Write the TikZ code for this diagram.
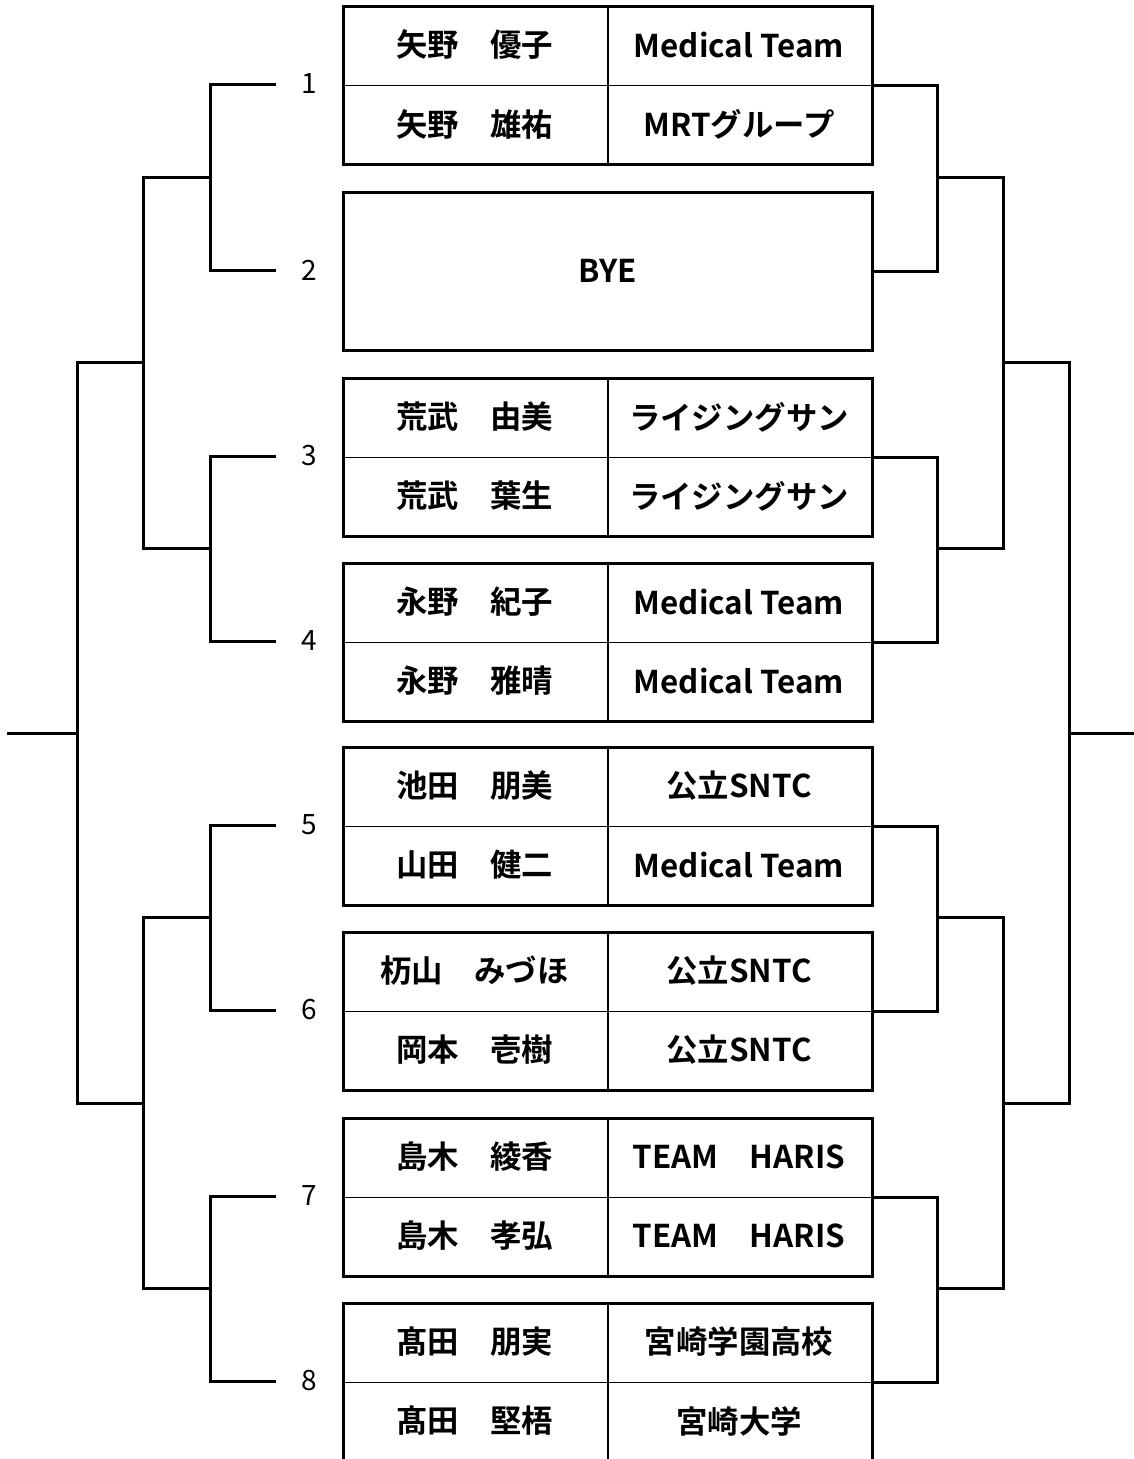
\documentclass[tikz,border=0pt]{standalone}
\usepackage{fontspec}
\setmainfont{Noto Sans CJK JP}[BoldFont={* Bold}]
\begin{document}
\begin{tikzpicture}[x=1pt,y=-1pt,
  br/.style={line width=3pt},
  outer/.style={draw, line width=3pt, minimum width=529pt, minimum height=157.5pt, inner sep=0pt, anchor=north west},
  vdiv/.style={line width=2pt},
  hdiv/.style={line width=1.3pt},
  cell/.style={font=\fontsize{31.4}{31.4}\selectfont\bfseries, inner sep=0pt, anchor=center},
  num/.style={font=\fontsize{28}{28}\selectfont, inner sep=0pt}]
\useasboundingbox (0,0) rectangle (1134,1459);

% boxes
\foreach \k/\t in {1/5,2/191,3/377,4/562,5/746,6/931,7/1117,8/1302}{
  \node[outer] (b\k) at (342,\t) {};
}
\foreach \k in {1,3,4,5,6,7,8}{
  \draw[vdiv] (b\k.north) -- (b\k.south);
  \draw[hdiv] (b\k.west) -- (b\k.east);
}

% texts
\foreach \k/\t/\na/\ta/\nb/\tb in {
  1/5/矢野　優子/Medical Team/矢野　雄祐/MRTグループ,
  3/377/荒武　由美/ライジングサン/荒武　葉生/ライジングサン,
  4/562/永野　紀子/Medical Team/永野　雅晴/Medical Team,
  5/746/池田　朋美/公立SNTC/山田　健二/Medical Team,
  6/931/杤山　みづほ/公立SNTC/岡本　壱樹/公立SNTC,
  7/1117/島木　綾香/TEAM　HARIS/島木　孝弘/TEAM　HARIS,
  8/1302/髙田　朋実/宮崎学園高校/髙田　堅梧/宮崎大学}{
  \node[cell] (na\k) at (474.5,\t+40) {\na};
  \node[cell] (ta\k) at (739,\t+40) {\ta};
  \node[cell] (nb\k) at (474.5,\t+119) {\nb};
  \node[cell] (tb\k) at (739,\t+119) {\tb};
}
\node[cell] (bye) at (b2.center) {BYE};

% numbers and left stubs
\foreach \k/\y in {1/84,2/270,3/456,4/641,5/825,6/1010,7/1196,8/1381}{
  \node[num] (num\k) at (309,\y) {\k};
  \coordinate (l\k) at (276,\y);
}

% left bracket joints
\coordinate (j12) at (210,177);
\coordinate (j34) at (210,548.5);
\coordinate (j56) at (210,917.5);
\coordinate (j78) at (210,1288.5);
\coordinate (k1) at (143,362.75);
\coordinate (k2) at (143,1103);
\coordinate (m) at (77,733);
\coordinate (out) at (7,733);

\draw[br] (l1) -| (j12) |- (l2);
\draw[br] (l3) -| (j34) |- (l4);
\draw[br] (l5) -| (j56) |- (l6);
\draw[br] (l7) -| (j78) |- (l8);
\draw[br] (j12) -| (k1) |- (j34);
\draw[br] (j56) -| (k2) |- (j78);
\draw[br] (k1) -| (m) |- (k2);
\draw[br] (m) -- (out);

% right bracket joints
\coordinate (rj12) at (937,177);
\coordinate (rj34) at (937,548.5);
\coordinate (rj56) at (937,917.5);
\coordinate (rj78) at (937,1288.5);
\coordinate (rk1) at (1003,362.75);
\coordinate (rk2) at (1003,1103);
\coordinate (rm) at (1069,733);
\coordinate (rout) at (1134,733);

\draw[br] (b1.east) -| (rj12) |- (b2.east);
\draw[br] (b3.east) -| (rj34) |- (b4.east);
\draw[br] (b5.east) -| (rj56) |- (b6.east);
\draw[br] (b7.east) -| (rj78) |- (b8.east);
\draw[br] (rj12) -| (rk1) |- (rj34);
\draw[br] (rj56) -| (rk2) |- (rj78);
\draw[br] (rk1) -| (rm) |- (rk2);
\draw[br] (rm) -- (rout);
\end{tikzpicture}
\end{document}
